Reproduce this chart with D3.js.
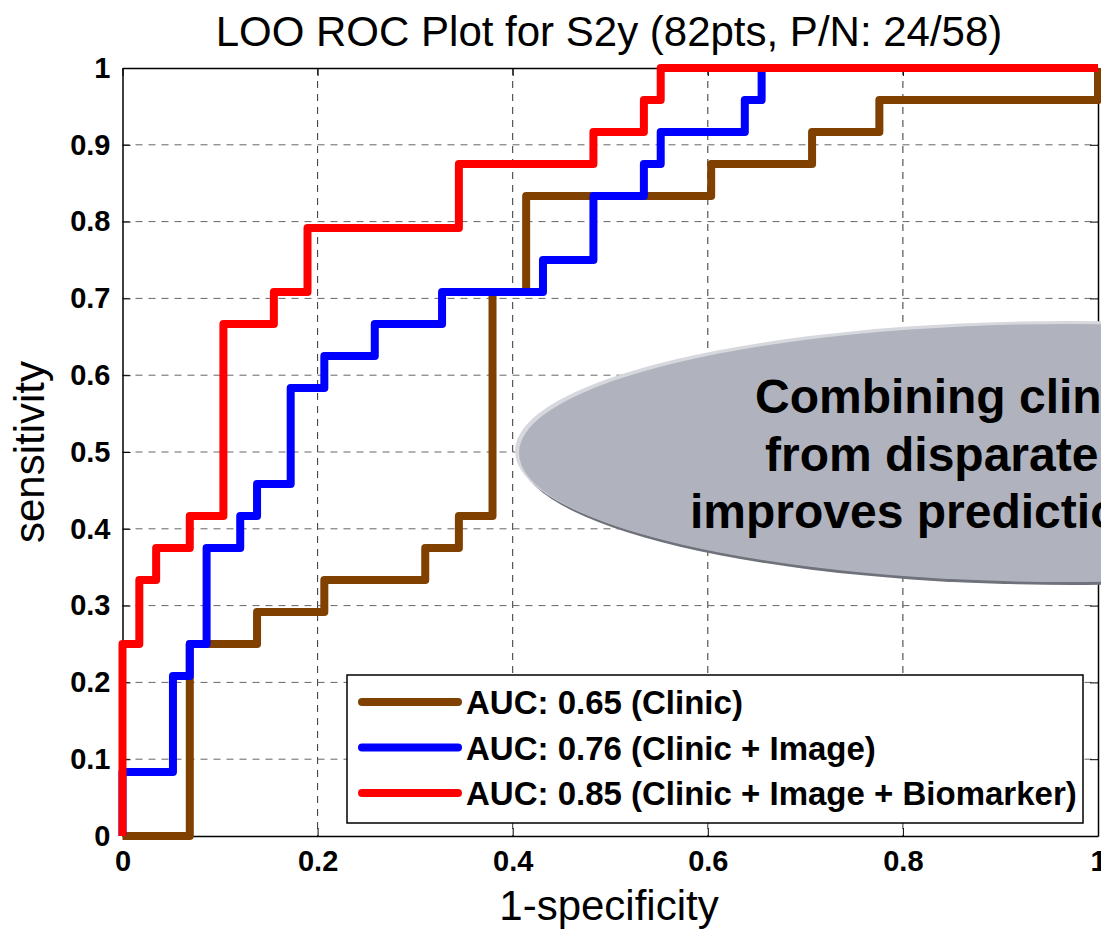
<!DOCTYPE html>
<html>
<head>
<meta charset="utf-8">
<script src="https://cdn.jsdelivr.net/npm/d3@7"></script>
<style>
  body { margin: 0; background: #fff; }
  svg { display: block; font-family: 'Liberation Sans', Arial, sans-serif; }
  .grid line { stroke-width: 1; stroke-dasharray: 7,6; }
</style>
</head>
<body>
<div id="chart"></div>
<script>
// counts: 58 negatives, 24 positives
const NEG = 58
const POS = 24

// ROC corner points (false positives, true positives), drawn as step-after
const clinicFP = [0, 4, 8, 12, 18, 20, 22, 24, 35, 41, 45, 58]
const clinicTP = [0, 6, 7, 8, 9, 10, 17, 20, 21, 22, 23, 24]
const imageFP = [0, 0, 3, 4, 5, 7, 8, 10, 12, 15, 19, 25, 28, 31, 32, 37, 38, 58]
const imageTP = [0, 2, 5, 6, 9, 10, 11, 14, 15, 16, 17, 18, 20, 21, 22, 23, 24, 24]
const bioFP = [0, 0, 1, 2, 4, 6, 9, 11, 20, 28, 31, 32, 58]
const bioTP = [0, 6, 8, 9, 10, 16, 17, 19, 21, 22, 23, 24, 24]

const seriesNames = ['AUC: 0.65 (Clinic)', 'AUC: 0.76 (Clinic + Image)', 'AUC: 0.85 (Clinic + Image + Biomarker)']
const seriesColors = ['#804000', '#0000ff', '#ff0000']
const xTicks = [0, 0.2, 0.4, 0.6, 0.8, 1]
const yTicks = [0, 0.1, 0.2, 0.3, 0.4, 0.5, 0.6, 0.7, 0.8, 0.9, 1]
const noteLines = ['Combining clinical data', 'from disparate sources', 'improves prediction']

let width = 1101,
  height = 930,
  plotLeft = 122.5,
  plotRight = 1098,
  plotTop = 68,
  plotBottom = 836

let svg = d3.select('#chart').append('svg')
  .attr('width', width)
  .attr('height', height)

let x = d3.scaleLinear().domain([0, 1]).range([plotLeft, plotRight])
let y = d3.scaleLinear().domain([0, 1]).range([plotBottom, plotTop])

// grid
let grid = svg.append('g').attr('class', 'grid')
grid.selectAll('.vg')
  .data(xTicks.filter(d => d > 0 && d < 1))
  .enter().append('line')
  .attr('class', 'vg')
  .attr('x1', d => x(d)).attr('x2', d => x(d))
  .attr('y1', plotTop).attr('y2', plotBottom)
  .style('stroke', '#333')
grid.selectAll('.hg')
  .data(yTicks.filter(d => d > 0 && d < 1))
  .enter().append('line')
  .attr('class', 'hg')
  .attr('x1', plotLeft).attr('x2', plotRight)
  .attr('y1', d => y(d)).attr('y2', d => y(d))
  .style('stroke', '#666')

// axes (MATLAB style, ticks inward, box on)
svg.append('g')
  .attr('transform', 'translate(0,' + plotBottom + ')')
  .call(d3.axisBottom(x).tickValues(xTicks).tickFormat(d3.format('')).tickSizeInner(-8).tickSizeOuter(0).tickPadding(14))
svg.append('g')
  .attr('transform', 'translate(' + plotLeft + ',0)')
  .call(d3.axisLeft(y).tickValues(yTicks).tickFormat(d3.format('')).tickSizeInner(-8).tickSizeOuter(0).tickPadding(12))
svg.append('g')
  .attr('transform', 'translate(0,' + plotTop + ')')
  .call(d3.axisTop(x).tickValues(xTicks).tickFormat('').tickSizeInner(-8).tickSizeOuter(0))
svg.append('g')
  .attr('transform', 'translate(' + plotRight + ',0)')
  .call(d3.axisRight(y).tickValues(yTicks).tickFormat('').tickSizeInner(-8).tickSizeOuter(0))

svg.selectAll('.domain').attr('stroke', '#000').attr('stroke-width', 1.5)
svg.selectAll('.tick line').attr('stroke', '#000')
svg.selectAll('.tick text')
  .style('font-size', '29px')
  .style('font-weight', 'bold')
  .style('font-family', "'Liberation Sans', Arial, sans-serif")
  .attr('fill', '#000')

// annotation ellipse (runs off the right edge, as in the original slide)
let note = svg.append('g')
note.append('ellipse')
  .attr('cx', 1072).attr('cy', 455).attr('rx', 553).attr('ry', 130)
  .attr('fill', '#6f727a')
note.append('ellipse')
  .attr('cx', 1068).attr('cy', 451).attr('rx', 553).attr('ry', 130)
  .attr('fill', '#d6d8de')
note.append('ellipse')
  .attr('cx', 1070).attr('cy', 453).attr('rx', 551).attr('ry', 129)
  .attr('fill', '#b0b3bd')
let noteX = [755, 765, 690]
note.selectAll('text')
  .data(noteLines)
  .enter().append('text')
  .attr('x', (d, i) => noteX[i])
  .attr('y', (d, i) => 413 + i * 57.5)
  .style('font-size', '48px')
  .style('font-weight', 'bold')
  .text(d => d)

// ROC curves
let line = d3.line()
  .x(d => x(d[0] / NEG))
  .y(d => y(d[1] / POS))
  .curve(d3.curveStepAfter)

let curves = [
  d3.zip(clinicFP, clinicTP),
  d3.zip(imageFP, imageTP),
  d3.zip(bioFP, bioTP)
]

svg.selectAll('.roc')
  .data(curves)
  .enter().append('path')
  .attr('class', 'roc')
  .attr('d', line)
  .attr('fill', 'none')
  .attr('stroke', (d, i) => seriesColors[i])
  .attr('stroke-width', 8)
  .attr('stroke-linejoin', 'round')

// legend
let legend = svg.append('g')
legend.append('rect')
  .attr('x', 347).attr('y', 675)
  .attr('width', 736).attr('height', 148)
  .attr('fill', '#fff').attr('stroke', '#000').attr('stroke-width', 1.5)
let rows = legend.selectAll('.row')
  .data(seriesNames)
  .enter().append('g')
  .attr('class', 'row')
  .attr('transform', (d, i) => 'translate(0,' + (702 + i * 45.5) + ')')
rows.append('line')
  .attr('x1', 362).attr('x2', 458)
  .attr('stroke', (d, i) => seriesColors[i])
  .attr('stroke-width', 8)
  .attr('stroke-linecap', 'round')
rows.append('text')
  .attr('x', 466).attr('y', 12)
  .style('font-size', '33px')
  .style('font-weight', 'bold')
  .text(d => d)

// titles
svg.append('text')
  .attr('x', 609).attr('y', 46)
  .attr('text-anchor', 'middle')
  .style('font-size', '42px')
  .text('LOO ROC Plot for S2y (82pts, P/N: 24/58)')
svg.append('text')
  .attr('x', 609).attr('y', 920)
  .attr('text-anchor', 'middle')
  .style('font-size', '42px')
  .text('1-specificity')
svg.append('text')
  .attr('transform', 'translate(44,452) rotate(-90)')
  .attr('text-anchor', 'middle')
  .style('font-size', '42px')
  .text('sensitivity')
</script>
</body>
</html>
